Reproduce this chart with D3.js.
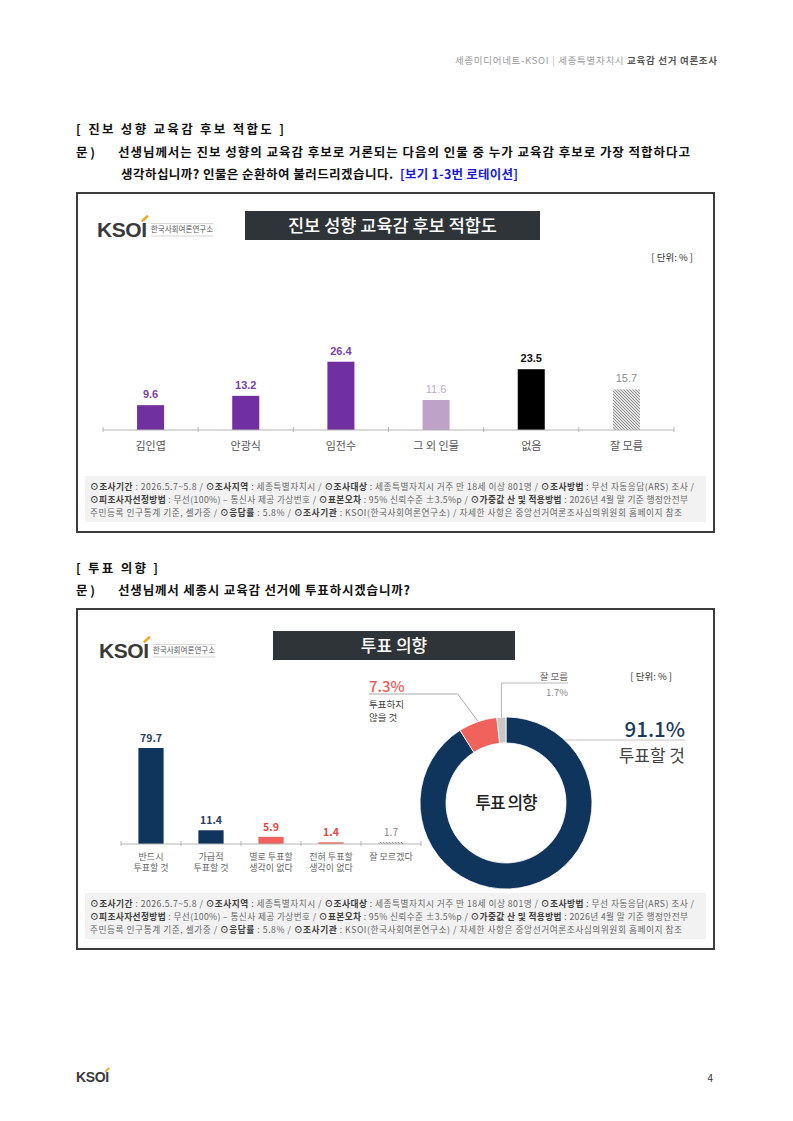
<!DOCTYPE html>
<html>
<head>
<meta charset="utf-8">
<script src="https://cdn.jsdelivr.net/npm/d3@7"></script>
<style>
body { margin: 0; background: #fff; }
svg { display: block; }
</style>
</head>
<body>
<svg id="page" width="793" height="1121"></svg>
<script>
// Chart 1 : 진보 성향 교육감 후보 적합도
const fitCats = ["김인엽", "안광식", "임전수", "그 외 인물", "없음", "잘 모름"];
const fitVals = [9.6, 13.2, 26.4, 11.6, 23.5, 15.7];

// Chart 2 : 투표 의향 (bars)
const voteCats = [["반드시", "투표할 것"], ["가급적", "투표할 것"], ["별로 투표할", "생각이 없다"], ["전혀 투표할", "생각이 없다"], ["잘 모르겠다"]];
const voteVals = [79.7, 11.4, 5.9, 1.4, 1.7];

// Chart 2 : 투표 의향 (donut)
const donutCats = ["투표할 것", "투표하지 않을 것", "잘 모름"];
const donutVals = [91.1, 7.3, 1.7];

// Footnote lines (text, bold?)
const noteLines = [
	[["⊙조사기간", 1], [" : 2026.5.7~5.8 / ", 0], ["⊙조사지역", 1], [" : 세종특별자치시 / ", 0], ["⊙조사대상", 1], [" : 세종특별자치시 거주 만 18세 이상 801명 / ", 0], ["⊙조사방법", 1], [" : 무선 자동응답(ARS) 조사 /", 0]],
	[["⊙피조사자선정방법", 1], [" : 무선(100%) – 통신사 제공 가상번호 / ", 0], ["⊙표본오차", 1], [" : 95% 신뢰수준 ±3.5%p / ", 0], ["⊙가중값 산 및 적용방법", 1], [" : 2026년 4월 말 기준 행정안전부", 0]],
	[["주민등록 인구통계 기준, 셀가중 / ", 0], ["⊙응답률", 1], [" : 5.8% / ", 0], ["⊙조사기관", 1], [" : KSOI(한국사회여론연구소) / 자세한 사항은 중앙선거여론조사심의위원회 홈페이지 참조", 0]]
];

const KR = "'Noto Sans CJK KR', 'Noto Sans', sans-serif";
const svg = d3.select("#page");

// Hatch pattern for "잘 모름"
const defs = svg.append("defs");
const pat = defs.append("pattern").attr("id", "hatch")
	.attr("patternUnits", "userSpaceOnUse").attr("width", 3).attr("height", 3);
pat.append("rect").attr("width", 3).attr("height", 3).attr("fill", "#e2e2e2");
pat.append("path").attr("d", "M0,0L3,3M-1,2L1,4M2,-1L4,1")
	.attr("stroke", "#7a7a7a").attr("stroke-width", 0.8);

// Text helper
function addText(g, x, y, str, opts){
	let t = g.append("text").attr("x", x).attr("y", y).text(str)
		.attr("font-family", opts.font || KR)
		.attr("font-size", opts.size || 12)
		.attr("font-weight", opts.weight || 400)
		.attr("fill", opts.fill || "#222")
		.attr("text-anchor", opts.anchor || "start");
	if (opts.len){
		t.attr("textLength", opts.len).attr("lengthAdjust", "spacing");
	}
	return t;
}

// KSOI logo
function drawLogo(g, x, y, size, withSub){
	let t = addText(g, x, y, "KSOI", {font: "'Liberation Sans', Arial, sans-serif", size: size, weight: 700, fill: "#3a3a3a"})
		.attr("letter-spacing", -0.4);
	let w = t.node().getComputedTextLength();
	// orange accent above the I
	g.append("path")
		.attr("d", "M" + (x + w - size*0.2) + "," + (y - size*0.78) + "L" + (x + w + size*0.02) + "," + (y - size*0.98))
		.attr("stroke", "#f2a51e").attr("stroke-width", size*0.12).attr("stroke-linecap", "round");
	if (withSub){
		let sx = x + w + 4;
		let s = addText(g, sx, y - size*0.22, "한국사회여론연구소", {size: size*0.36, fill: "#555"});
		let sw = s.node().getComputedTextLength();
		g.append("line").attr("x1", sx).attr("x2", sx + sw).attr("y1", y - size*0.64).attr("y2", y - size*0.64)
			.attr("stroke", "#bbb").attr("stroke-width", 0.6);
		g.append("line").attr("x1", sx).attr("x2", sx + sw).attr("y1", y - size*0.05).attr("y2", y - size*0.05)
			.attr("stroke", "#bbb").attr("stroke-width", 0.6);
	}
}

// Chart frame: border, logo, title box, unit
function drawFrame(top, bottom, title, box, unitX, unitY, titleSize){
	let g = svg.append("g");
	g.append("rect").attr("x", 77).attr("y", top).attr("width", 637).attr("height", bottom - top)
		.attr("fill", "#fff").attr("stroke", "#3c3c3c").attr("stroke-width", 2);
	g.append("rect").attr("x", box[0]).attr("y", box[1]).attr("width", box[2] - box[0]).attr("height", box[3] - box[1])
		.attr("fill", "#2f3439");
	addText(g, (box[0] + box[2]) / 2, (box[1] + box[3]) / 2 + titleSize*0.37, title, {size: titleSize, fill: "#fff", anchor: "middle", weight: 500});
	addText(g, unitX, unitY, "[ 단위: % ]", {size: 9.5, fill: "#333", anchor: "end"});
	return g;
}

// Footnote box
function drawNote(g, y){
	g.append("rect").attr("x", 85).attr("y", y).attr("width", 621).attr("height", 46).attr("fill", "#f2f2f2");
	let lens = [604, 598, 592];
	noteLines.forEach((line, i) => {
		let t = g.append("text").attr("x", 90).attr("y", y + 14 + i*13)
			.attr("font-family", KR).attr("font-size", 8.7)
			.attr("textLength", lens[i]).attr("lengthAdjust", "spacing");
		line.forEach(seg => {
			t.append("tspan").text(seg[0])
				.attr("font-weight", seg[1] ? 700 : 400)
				.attr("fill", seg[1] ? "#3e3e3e" : "#666");
		});
	});
}

// ---------- Page header ----------
let hdr = svg.append("text").attr("x", 717).attr("y", 64).attr("text-anchor", "end")
	.attr("font-family", KR).attr("font-size", 9.5)
	.attr("textLength", 262).attr("lengthAdjust", "spacing");
hdr.append("tspan").text("세종미디어네트-KSOI").attr("fill", "#9a9a9a");
hdr.append("tspan").text(" | ").attr("fill", "#bbb");
hdr.append("tspan").text("세종특별자치시 ").attr("fill", "#9a9a9a");
hdr.append("tspan").text("교육감 선거 여론조사").attr("fill", "#555").attr("font-weight", 700);

// ---------- Section 1 texts ----------
addText(svg, 76, 134, "[ 진보 성향 교육감 후보 적합도 ]", {size: 12.5, weight: 700, fill: "#111", len: 208});
addText(svg, 76, 157, "문 )", {size: 12.5, weight: 700, fill: "#111"});
addText(svg, 118, 157, "선생님께서는 진보 성향의 교육감 후보로 거론되는 다음의 인물 중 누가 교육감 후보로 가장 적합하다고", {size: 12.5, weight: 700, fill: "#111", len: 572});
addText(svg, 121, 179, "생각하십니까? 인물은 순환하여 불러드리겠습니다.", {size: 12.5, weight: 700, fill: "#111", len: 272});
addText(svg, 400, 179, "[보기 1-3번 로테이션]", {size: 12.5, weight: 700, fill: "#1a1adc", len: 118});

// ---------- Chart 1 ----------
let g1 = drawFrame(193, 532, "진보 성향 교육감 후보 적합도", [245, 211, 540, 240], 693, 261, 17.5);
drawLogo(g1, 97, 237, 21, true);

const x1 = d3.scaleBand().domain(fitCats).range([103, 674]).paddingInner(0.716).paddingOuter(0.358);
const y1 = d3.scaleLinear().domain([0, 30]).range([430, 430 - 77.6]);
const fitFill = ["#7030a0", "#7030a0", "#7030a0", "#bea2c8", "#000000", "url(#hatch)"];
const fitLabelFill = ["#7b3fae", "#7b3fae", "#7b3fae", "#c6abd0", "#111", "#8c8c8c"];
const fitLabelWeight = [700, 700, 700, 400, 700, 400];

g1.selectAll("rect.bar").data(fitVals).join("rect").attr("class", "bar")
	.attr("x", (d, i) => x1(fitCats[i]))
	.attr("y", d => y1(d))
	.attr("width", x1.bandwidth())
	.attr("height", d => y1(0) - y1(d))
	.attr("fill", (d, i) => fitFill[i]);

g1.selectAll("text.val").data(fitVals).join("text").attr("class", "val")
	.attr("x", (d, i) => x1(fitCats[i]) + x1.bandwidth() / 2)
	.attr("y", d => y1(d) - 7)
	.attr("text-anchor", "middle")
	.attr("font-family", "'Liberation Sans', Arial, sans-serif")
	.attr("font-size", 11)
	.attr("font-weight", (d, i) => fitLabelWeight[i])
	.attr("fill", (d, i) => fitLabelFill[i])
	.text(d => d.toFixed(1));

// axis line with boundary ticks
g1.append("line").attr("x1", x1.range()[0]).attr("x2", x1.range()[1]).attr("y1", y1(0)).attr("y2", y1(0))
	.attr("stroke", "#b5b5b5").attr("stroke-width", 1);
g1.selectAll("line.tk").data(d3.range(fitCats.length + 1)).join("line").attr("class", "tk")
	.attr("x1", i => x1.range()[0] + i * x1.step()).attr("x2", i => x1.range()[0] + i * x1.step())
	.attr("y1", y1(0) - 3).attr("y2", y1(0) + 2)
	.attr("stroke", "#b5b5b5");
g1.selectAll("text.cat").data(fitCats).join("text").attr("class", "cat")
	.attr("x", d => x1(d) + x1.bandwidth() / 2)
	.attr("y", 450)
	.attr("text-anchor", "middle")
	.attr("font-family", KR).attr("font-size", 11).attr("fill", "#555")
	.text(d => d);

drawNote(g1, 476);

// ---------- Section 2 texts ----------
addText(svg, 76, 573, "[ 투표 의향 ]", {size: 12.5, weight: 700, fill: "#111", len: 82});
addText(svg, 76, 595, "문 )", {size: 12.5, weight: 700, fill: "#111"});
addText(svg, 118, 595, "선생님께서 세종시 교육감 선거에 투표하시겠습니까?", {size: 12.5, weight: 700, fill: "#111", len: 292});

// ---------- Chart 2 ----------
let g2 = drawFrame(609, 949, "투표 의향", [273, 631, 515, 660], 672, 680, 17);
drawLogo(g2, 99, 658, 21, true);

const x2 = d3.scaleBand().domain(d3.range(voteVals.length)).range([121, 421]).paddingInner(0.58).paddingOuter(0.29);
const y2 = d3.scaleLinear().domain([0, 100]).range([844, 844 - 120.45]);
const voteFill = ["#10355c", "#10355c", "#f0625b", "#f0625b", "url(#hatch)"];
const voteLabelFill = ["#2b4060", "#2b4060", "#e8443f", "#e8443f", "#8c8c8c"];
const voteLabelWeight = [600, 600, 700, 700, 400];

g2.selectAll("rect.bar").data(voteVals).join("rect").attr("class", "bar")
	.attr("x", (d, i) => x2(i))
	.attr("y", d => y2(d))
	.attr("width", x2.bandwidth())
	.attr("height", d => y2(0) - y2(d))
	.attr("fill", (d, i) => voteFill[i]);

g2.selectAll("text.val").data(voteVals).join("text").attr("class", "val")
	.attr("x", (d, i) => x2(i) + x2.bandwidth() / 2)
	.attr("y", d => y2(d) - 6)
	.attr("text-anchor", "middle")
	.attr("font-family", KR).attr("font-size", 10.5)
	.attr("font-weight", (d, i) => voteLabelWeight[i])
	.attr("fill", (d, i) => voteLabelFill[i])
	.text(d => d.toFixed(1));

g2.append("line").attr("x1", x2.range()[0]).attr("x2", x2.range()[1]).attr("y1", y2(0)).attr("y2", y2(0))
	.attr("stroke", "#b5b5b5").attr("stroke-width", 1);
g2.selectAll("line.tk").data(d3.range(voteVals.length + 1)).join("line").attr("class", "tk")
	.attr("x1", i => x2.range()[0] + i * x2.step()).attr("x2", i => x2.range()[0] + i * x2.step())
	.attr("y1", y2(0) - 3).attr("y2", y2(0) + 2)
	.attr("stroke", "#b5b5b5");
voteCats.forEach((lines, i) => {
	lines.forEach((s, j) => {
		addText(g2, x2(i) + x2.bandwidth() / 2, 860 + j * 11, s, {size: 9, fill: "#666", anchor: "middle"});
	});
});

// donut
const cx = 506, cy = 803, rIn = 60, rOut = 86;
const donutFill = ["#10355c", "#f0625b", "#c8c8c8"];
const pie = d3.pie().sort(null)(donutVals);
const arc = d3.arc().innerRadius(rIn).outerRadius(rOut);
const dg = g2.append("g").attr("transform", "translate(" + cx + "," + cy + ")");
dg.selectAll("path").data(pie).join("path")
	.attr("d", arc)
	.attr("fill", (d, i) => donutFill[i])
	.attr("stroke", "#fff").attr("stroke-width", 0.8);
addText(dg, 0, 6, "투표 의향", {size: 17, weight: 500, fill: "#222", anchor: "middle"}).attr("letter-spacing", -1);

// point on outer rim at angle a
function rim(a, r){ return [cx + r * Math.sin(a), cy - r * Math.cos(a)]; }

// 91.1% 투표할 것
let lineY = 740;
let startX = cx + Math.sqrt(rOut*rOut - (cy - lineY)*(cy - lineY));
g2.append("line").attr("x1", startX).attr("x2", 685).attr("y1", lineY).attr("y2", lineY)
	.attr("stroke", "#c4c4c4").attr("stroke-width", 1);
addText(g2, 685, 737, donutVals[0].toFixed(1) + "%", {size: 20.5, weight: 500, fill: "#1b3a5e", anchor: "end"});
addText(g2, 685, 762, donutCats[0], {size: 17, fill: "#444", anchor: "end"});

// 7.3% 투표하지 않을 것
let pRed = rim((pie[1].startAngle + pie[1].endAngle) / 2, rOut);
g2.append("polyline")
	.attr("points", [[pRed[0], pRed[1] - 1], [pRed[0] - 20, 694], [369, 694]].map(p => p.join(",")).join(" "))
	.attr("fill", "none").attr("stroke", "#a8a8a8").attr("stroke-width", 1);
addText(g2, 369, 692, donutVals[1].toFixed(1) + "%", {size: 15, weight: 500, fill: "#ee5a55"});
addText(g2, 369, 708, "투표하지", {size: 9.5, fill: "#444"});
addText(g2, 369, 721, "않을 것", {size: 9.5, fill: "#444"});

// 1.7% 잘 모름
let pGray = rim((pie[2].startAngle + pie[2].endAngle) / 2, rOut);
g2.append("polyline")
	.attr("points", [[pGray[0], pGray[1]], [pGray[0], 683], [568, 683]].map(p => p.join(",")).join(" "))
	.attr("fill", "none").attr("stroke", "#b8b8b8").attr("stroke-width", 1);
addText(g2, 568, 680, donutCats[2], {size: 9.5, fill: "#666", anchor: "end"});
addText(g2, 568, 696, donutVals[2].toFixed(1) + "%", {size: 9.5, fill: "#888", anchor: "end"});

drawNote(g2, 893);

// ---------- Footer ----------
let gf = svg.append("g");
drawLogo(gf, 76, 1082, 14, false);
addText(gf, 713, 1082, "4", {size: 10, fill: "#333", anchor: "end"});
</script>
</body>
</html>
